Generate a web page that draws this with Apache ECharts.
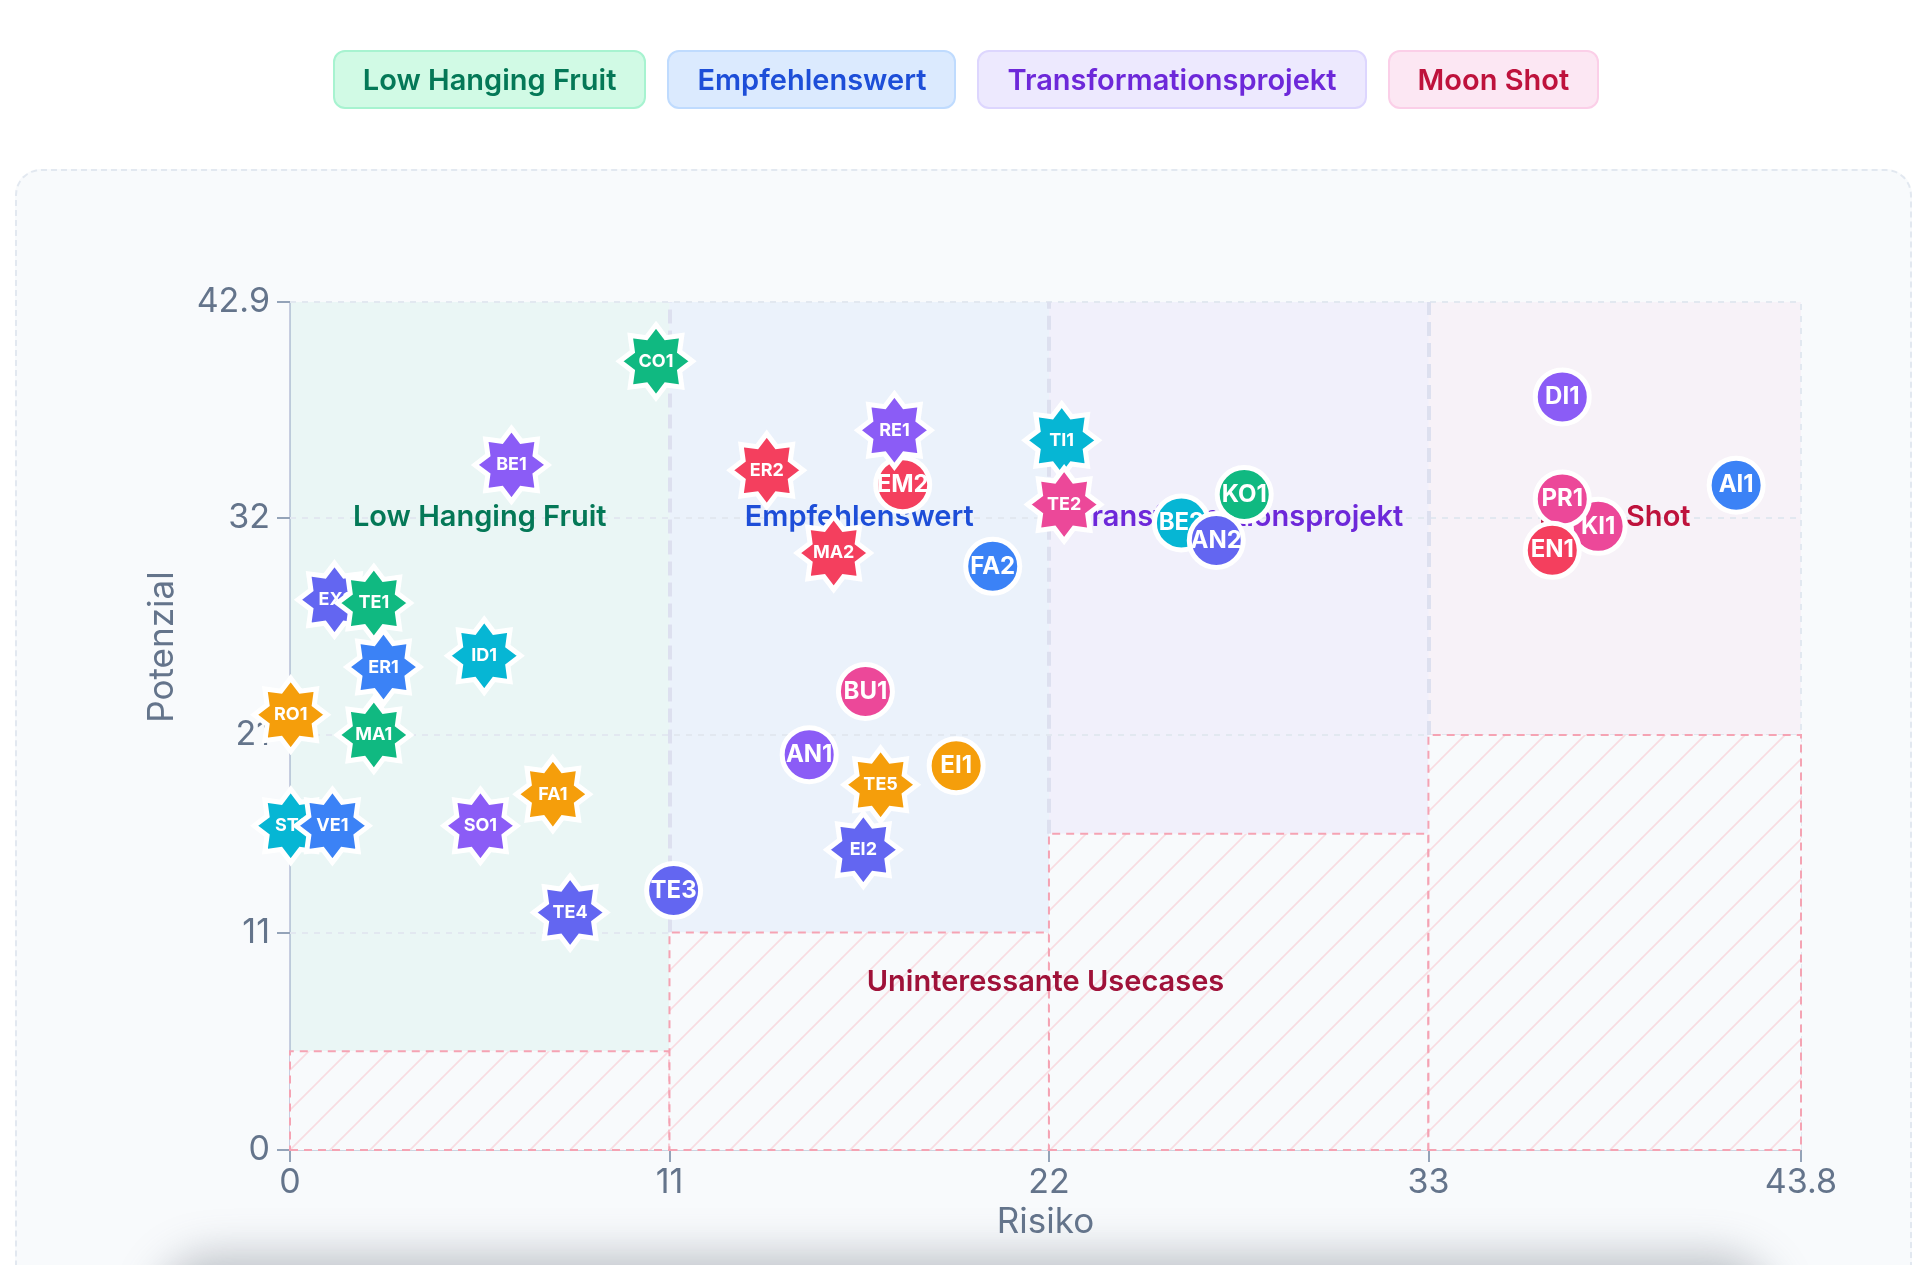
<!DOCTYPE html>
<html>
<head>
<meta charset="utf-8">
<script src="https://cdn.jsdelivr.net/npm/echarts@6/dist/echarts.min.js"></script>
<style>
html,body{margin:0;padding:0;width:1920px;height:1265px;overflow:hidden;background:#ffffff;font-family:Inter,"Noto Sans",sans-serif;}
#card{position:absolute;left:15px;top:169px;width:1897px;height:1200px;border:2px dashed #e2e8f0;border-radius:26px;background:#f8fafc;box-sizing:border-box;}
#shade{position:absolute;left:175px;top:1274px;width:1580px;height:120px;border-radius:40px;background:#c9cdd4;box-shadow:0 0 42px 20px rgba(100,108,122,0.38);}
#chart{position:absolute;left:0;top:0;width:1920px;height:1265px;}
#legend{position:absolute;top:50px;left:6px;width:1920px;display:flex;justify-content:center;gap:21px;}
.pill{height:59px;box-sizing:border-box;padding:0 28px;border:2px solid;border-radius:12px;font-size:29px;font-weight:600;display:flex;align-items:center;white-space:nowrap;}
</style>
</head>
<body>
<div id="card"></div>
<div id="shade"></div>
<div id="chart"></div>
<div id="legend"></div>
<script>
// ---------------- data ----------------
const categories = ['Low Hanging Fruit', 'Empfehlenswert', 'Transformationsprojekt', 'Moon Shot'];
const regionX = [0, 11, 22, 33, 43.8];          // risk boundaries of the four quadrants
const regionFloor = [5, 11, 16, 21];            // potential below which a use case is uninteresting
const regionLabelX = [5.5, 16.5, 27.5, 38.4];
const regionLabelY = 32;
const lowLabel = 'Uninteressante Usecases';
const lowLabelPos = [21.9, 8.5];
const xTicks = [0, 11, 22, 33, 43.8];
const yTicks = [0, 11, 21, 32, 42.9];
const gridY = [11, 21, 32, 42.9];
const xMax = 43.8;
const yMax = 42.9;

const pointNames = ['EM2','FA2','BU1','AN1','EI1','TE3','BE2','KO1','AN2','DI1','KI1','PR1','EN1','AI1',
                    'CO1','BE1','EX1','TE1','ER1','MA1','ID1','RO1','ST1','VE1','SO1','FA1','TE4','ER2','RE1','MA2','TI1','TE2','TE5','EI2'];
const pointRisk = [17.76, 20.37, 16.68, 15.05, 19.31, 11.12, 25.84, 27.66, 26.85, 36.88, 37.92, 36.88, 36.59, 41.92,
                   10.61, 6.42, 1.29, 2.43, 2.71, 2.43, 5.63, 0.02, 0.02, 1.23, 5.52, 7.62, 8.12, 13.82, 17.52, 15.76, 22.37, 22.44, 17.12, 16.62];
const pointPotential = [33.66, 29.53, 23.2, 20.0, 19.44, 13.13, 31.72, 33.16, 30.84, 38.1, 31.55, 32.94, 30.34, 33.63,
                        39.9, 34.66, 27.84, 27.67, 24.43, 21.0, 25.0, 22.02, 16.4, 16.4, 16.4, 18.0, 12.01, 34.39, 36.41, 30.2, 35.9, 32.65, 18.48, 15.19];
const pointShape = ['circle','circle','circle','circle','circle','circle','circle','circle','circle','circle','circle','circle','circle','circle',
                    'star','star','star','star','star','star','star','star','star','star','star','star','star','star','star','star','star','star','star','star'];

// ---------------- styles ----------------
const C = {green:'#10b981', purple:'#8b5cf6', indigo:'#6366f1', blue:'#3b82f6', cyan:'#06b6d4', amber:'#f59e0b', rose:'#f43f5e', pink:'#ec4899'};
const pointColor = [C.rose, C.blue, C.pink, C.purple, C.amber, C.indigo, C.cyan, C.green, C.indigo, C.purple, C.pink, C.pink, C.rose, C.blue,
                    C.green, C.purple, C.indigo, C.green, C.blue, C.green, C.cyan, C.amber, C.cyan, C.blue, C.purple, C.amber, C.indigo, C.rose, C.purple, C.rose, C.cyan, C.pink, C.amber, C.indigo];
const legendStyle = [
  {bg:'#d1fae5', border:'#a7f3d0', text:'#047857'},
  {bg:'#dbeafe', border:'#bfdbfe', text:'#1d4ed8'},
  {bg:'#ede9fe', border:'#ddd6fe', text:'#6d28d9'},
  {bg:'#fce7f3', border:'#fbcfe8', text:'#be123c'}
];
const regionFills = ['rgba(16,185,129,0.06)', 'rgba(59,130,246,0.065)', 'rgba(124,58,237,0.05)', 'rgba(236,72,153,0.045)'];
const regionLabelColors = ['#047857', '#1d4ed8', '#6d28d9', '#be123c'];
const FONT = 'Inter, "Noto Sans", sans-serif';

// legend pills (HTML)
const lg = document.getElementById('legend');
categories.forEach((c, i) => {
  const d = document.createElement('div');
  d.className = 'pill';
  d.textContent = c;
  d.style.background = legendStyle[i].bg;
  d.style.borderColor = legendStyle[i].border;
  d.style.color = legendStyle[i].text;
  lg.appendChild(d);
});

// 8-point star path
function starPath() {
  const pts = [];
  for (let k = 0; k < 16; k++) {
    const a = -Math.PI / 2 + k * Math.PI / 8;
    const r = k % 2 === 0 ? 100 : 70;
    pts.push((100 + r * Math.cos(a)).toFixed(2) + ' ' + (100 + r * Math.sin(a)).toFixed(2));
  }
  return 'path://M' + pts.join(' L') + ' Z';
}
const STAR = starPath();

// hatch pattern
const pc = document.createElement('canvas');
pc.width = 40; pc.height = 40;
const g = pc.getContext('2d');
g.fillStyle = 'rgba(248,250,252,1)';
g.fillRect(0, 0, 40, 40);
g.strokeStyle = 'rgba(251,113,133,0.22)';
g.lineWidth = 1.6;
g.beginPath();
g.moveTo(-10, 50); g.lineTo(50, -10);
g.moveTo(-30, 30); g.lineTo(30, -30);
g.moveTo(10, 70); g.lineTo(70, 10);
g.stroke();

const chart = echarts.init(document.getElementById('chart'), null, {renderer: 'canvas'});

const series = [];
// region fills + light grid
series.push({
  type: 'scatter', data: [], z: 1, silent: true,
  markArea: {
    silent: true, z: 1,
    data: regionFloor.map((f, i) => [
      {xAxis: regionX[i], yAxis: f, itemStyle: {color: regionFills[i]}},
      {xAxis: regionX[i + 1], yAxis: yMax}
    ])
  },
  markLine: {
    silent: true, z: 2, symbol: ['none', 'none'], label: {show: false}, animation: false,
    lineStyle: {color: '#e2e8f0', width: 2, type: [6, 6]},
    data: gridY.map(v => ({yAxis: v})).concat([{xAxis: xMax}])
  }
});
// region boundaries (thick dashed)
series.push({
  type: 'scatter', data: [], z: 2, silent: true,
  markLine: {
    silent: true, z: 2, symbol: ['none', 'none'], label: {show: false}, animation: false,
    lineStyle: {color: '#dde0ef', width: 4, type: [14, 7]},
    data: [1, 2, 3].map(i => [
      {coord: [regionX[i], Math.max(regionFloor[i - 1], regionFloor[i])]},
      {coord: [regionX[i], yMax]}
    ])
  }
});
// hatched uninteresting zones
series.push({
  type: 'scatter', data: [], z: 3, silent: true,
  markArea: {
    silent: true, z: 3,
    itemStyle: {color: {image: pc, repeat: 'repeat'}, borderColor: '#f5a3b3', borderWidth: 2, borderType: [8, 6]},
    data: regionFloor.map((f, i) => [
      {xAxis: regionX[i], yAxis: 0},
      {xAxis: regionX[i + 1], yAxis: f}
    ])
  }
});
// region labels
series.push({
  type: 'scatter', z: 4, silent: true, symbolSize: 0, clip: false,
  itemStyle: {opacity: 0},
  label: {show: true, position: 'inside', formatter: '{b}', fontSize: 29, fontWeight: 600, fontFamily: FONT,
          textBorderWidth: 0, opacity: 1},
  data: regionLabelX.map((x, i) => ({value: [x, regionLabelY], name: categories[i], label: {color: regionLabelColors[i]}}))
    .concat([{value: lowLabelPos, name: lowLabel, label: {color: '#9f1239'}}])
});
// points
pointNames.forEach((n, i) => {
  const star = pointShape[i] === 'star';
  series.push({
    type: 'scatter', z: 10 + i, silent: true, clip: false,
    symbol: star ? STAR : 'circle',
    symbolSize: star ? 73 : 54,
    itemStyle: {color: pointColor[i], borderColor: '#ffffff', borderWidth: 5, opacity: 1},
    label: {show: true, position: 'inside', formatter: n, color: '#ffffff', fontWeight: 700,
            fontSize: star ? 18 : 24, fontFamily: FONT, textBorderWidth: 0},
    data: [[pointRisk[i], pointPotential[i]]]
  });
});

chart.setOption({
  animation: false,
  backgroundColor: 'transparent',
  grid: {left: 290, right: 119, top: 302, bottom: 115, containLabel: false},
  xAxis: {
    type: 'value', min: 0, max: xMax,
    name: 'Risiko', nameLocation: 'middle', nameGap: 53,
    nameTextStyle: {fontSize: 35, color: '#64748b', fontFamily: FONT},
    axisLine: {show: true, lineStyle: {color: '#cbd5e1', width: 2}},
    axisTick: {show: true, customValues: xTicks, length: 12, lineStyle: {color: '#94a3b8', width: 2}},
    axisLabel: {customValues: xTicks, fontSize: 34, color: '#64748b', margin: 16, fontFamily: FONT},
    splitLine: {show: false}
  },
  yAxis: {
    type: 'value', min: 0, max: yMax,
    name: 'Potenzial', nameLocation: 'middle', nameGap: 110,
    nameTextStyle: {fontSize: 35, color: '#64748b', fontFamily: FONT, padding: [0, 0, 0, 158]},
    axisLine: {show: true, lineStyle: {color: '#c7cde0', width: 2}},
    axisTick: {show: true, customValues: yTicks, length: 13, lineStyle: {color: '#94a3b8', width: 2}},
    axisLabel: {customValues: yTicks, fontSize: 34, color: '#64748b', margin: 20, fontFamily: FONT},
    splitLine: {show: false}
  },
  series: series
});
</script>
</body>
</html>
